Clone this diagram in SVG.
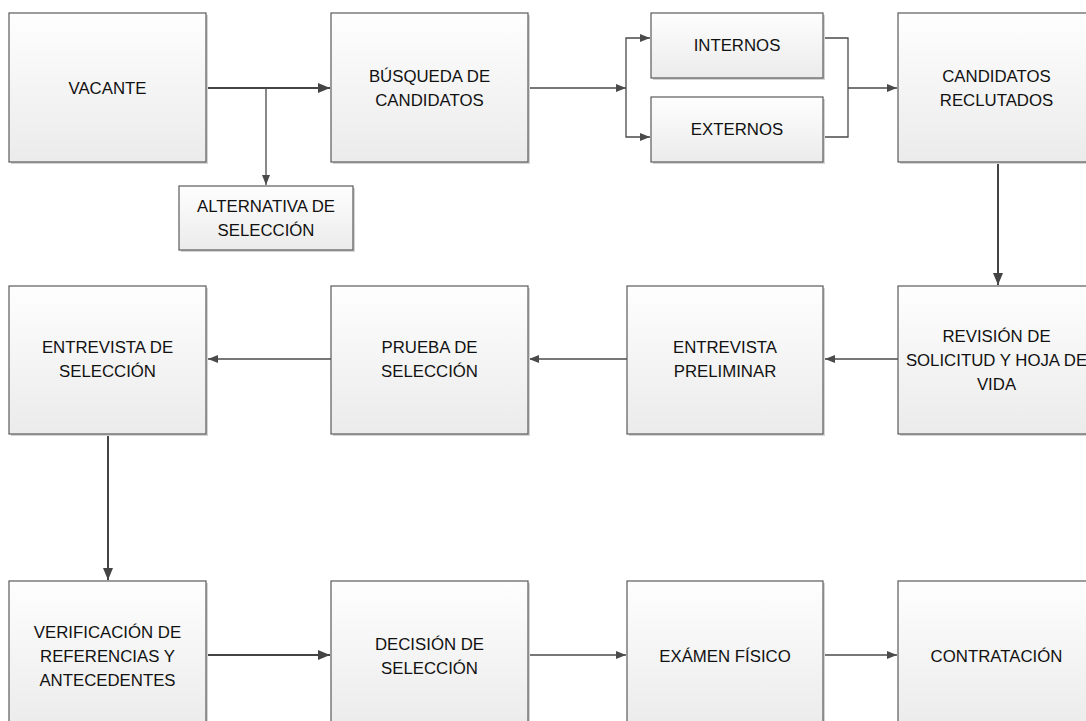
<svg xmlns="http://www.w3.org/2000/svg" width="1086" height="721" viewBox="0 0 1086 721">
<style>
.box{fill:url(#g);stroke:#5a5a5a;stroke-width:1.2}
.sh{fill:#d4d4d4}
.t{font-family:"Liberation Sans",Arial,sans-serif;font-size:16.8px;fill:#111;text-anchor:middle;dominant-baseline:central}
.c{fill:none;stroke:#4a4a4a;stroke-width:1.3}
.ck{fill:none;stroke:#444;stroke-width:2}
.ah{marker-end:url(#a)}
.ahk{marker-end:url(#ak)}
</style>
<defs>
<linearGradient id="g" x1="0" y1="0" x2="0" y2="1">
<stop offset="0" stop-color="#fefefe"/>
<stop offset="1" stop-color="#ebebeb"/>
</linearGradient>
<marker id="a" markerUnits="userSpaceOnUse" markerWidth="12" markerHeight="10" refX="10" refY="4" orient="auto">
<path d="M0,0 L10,4 L0,8 Z" fill="#4a4a4a"/>
</marker>
<marker id="ak" markerUnits="userSpaceOnUse" markerWidth="14" markerHeight="12" refX="12" refY="5" orient="auto">
<path d="M0,0 L12,5 L0,10 Z" fill="#444"/>
</marker>
</defs>
<rect width="1086" height="721" fill="#fff"/>
<g id="connectors">
<path class="ck ahk" d="M207,88 H330"/>
<path class="c ah" d="M266,88 V185"/>
<path class="c ah" d="M528,88 H626"/>
<path class="c ah" d="M626,88 V38 H650"/>
<path class="c ah" d="M626,88 V137 H650"/>
<path class="c" d="M823,38 H848 V137 H823"/>
<path class="c ah" d="M848,88 H897"/>
<path class="ck ahk" d="M998,162 V285"/>
<path class="c ah" d="M898,359 H825"/>
<path class="c ah" d="M627,359 H529"/>
<path class="c ah" d="M331,359 H208"/>
<path class="ck ahk" d="M108,433 V580"/>
<path class="ck ahk" d="M207,655 H330"/>
<path class="c ah" d="M528,655 H626"/>
<path class="c ah" d="M824,655 H897"/>
</g>
<g id="n-vacante"><rect class="sh" x="11" y="15" width="197" height="149"/><rect class="box" x="9" y="13" width="197" height="149"/><text class="t" x="107.5" y="88">VACANTE</text></g>
<g id="n-busqueda"><rect class="sh" x="333" y="15" width="197" height="149"/><rect class="box" x="331" y="13" width="197" height="149"/><text class="t" x="429.5" y="76">BÚSQUEDA DE</text><text class="t" x="429.5" y="100">CANDIDATOS</text></g>
<g id="n-alternativa"><rect class="sh" x="181" y="188" width="174" height="64"/><rect class="box" x="179" y="186" width="174" height="64"/><text class="t" x="266" y="206">ALTERNATIVA DE</text><text class="t" x="266" y="230">SELECCIÓN</text></g>
<g id="n-internos"><rect class="sh" x="653" y="15" width="172" height="65"/><rect class="box" x="651" y="13" width="172" height="65"/><text class="t" x="737" y="45">INTERNOS</text></g>
<g id="n-externos"><rect class="sh" x="653" y="99" width="172" height="65"/><rect class="box" x="651" y="97" width="172" height="65"/><text class="t" x="737" y="129">EXTERNOS</text></g>
<g id="n-candidatos"><rect class="sh" x="900" y="15" width="197" height="149"/><rect class="box" x="898" y="13" width="197" height="149"/><text class="t" x="996.5" y="76">CANDIDATOS</text><text class="t" x="996.5" y="100">RECLUTADOS</text></g>
<g id="n-revision"><rect class="sh" x="900" y="288" width="197" height="148"/><rect class="box" x="898" y="286" width="197" height="148"/><text class="t" x="996.5" y="336">REVISIÓN DE</text><text class="t" x="996.5" y="360">SOLICITUD Y HOJA DE</text><text class="t" x="996.5" y="384">VIDA</text></g>
<g id="n-preliminar"><rect class="sh" x="629" y="288" width="196" height="148"/><rect class="box" x="627" y="286" width="196" height="148"/><text class="t" x="725" y="347">ENTREVISTA</text><text class="t" x="725" y="371">PRELIMINAR</text></g>
<g id="n-prueba"><rect class="sh" x="333" y="288" width="197" height="148"/><rect class="box" x="331" y="286" width="197" height="148"/><text class="t" x="429.5" y="347">PRUEBA DE</text><text class="t" x="429.5" y="371">SELECCIÓN</text></g>
<g id="n-entrevista-sel"><rect class="sh" x="11" y="288" width="197" height="148"/><rect class="box" x="9" y="286" width="197" height="148"/><text class="t" x="107.5" y="347">ENTREVISTA DE</text><text class="t" x="107.5" y="371">SELECCIÓN</text></g>
<g id="n-verificacion"><rect class="sh" x="11" y="583" width="197" height="148"/><rect class="box" x="9" y="581" width="197" height="148"/><text class="t" x="107.5" y="632">VERIFICACIÓN DE</text><text class="t" x="107.5" y="656">REFERENCIAS Y</text><text class="t" x="107.5" y="680">ANTECEDENTES</text></g>
<g id="n-decision"><rect class="sh" x="333" y="583" width="197" height="148"/><rect class="box" x="331" y="581" width="197" height="148"/><text class="t" x="429.5" y="644">DECISIÓN DE</text><text class="t" x="429.5" y="668">SELECCIÓN</text></g>
<g id="n-examen"><rect class="sh" x="629" y="583" width="196" height="148"/><rect class="box" x="627" y="581" width="196" height="148"/><text class="t" x="725" y="656">EXÁMEN FÍSICO</text></g>
<g id="n-contratacion"><rect class="sh" x="900" y="583" width="197" height="148"/><rect class="box" x="898" y="581" width="197" height="148"/><text class="t" x="996.5" y="656">CONTRATACIÓN</text></g>
</svg>
